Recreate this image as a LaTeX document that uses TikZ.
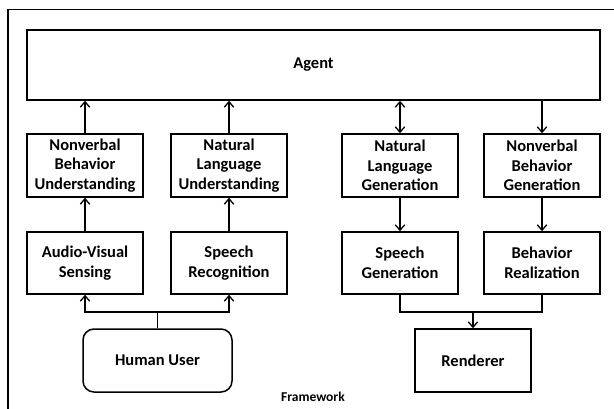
\documentclass[tikz,border=0pt]{standalone}
\usepackage{fontspec}
\setmainfont{Carlito}
\usetikzlibrary{arrows.meta}
\begin{document}
\begin{tikzpicture}[x=1pt,y=-1pt,
  box/.style={draw, line width=1.5pt, minimum width=116pt, minimum height=63pt, align=center, inner sep=0pt,
    font=\fontsize{16.5}{19.5}\selectfont\bfseries},
  conn/.style={line width=1.3pt},
  arr/.style={conn, -{Straight Barb[length=5.5pt,width=9.5pt,line width=1.3pt]}},
  darr/.style={conn, {Straight Barb[length=5.5pt,width=9.5pt,line width=1.3pt]}-{Straight Barb[length=5.5pt,width=9.5pt,line width=1.3pt]}}
]
\useasboundingbox (0,0) rectangle (614,408);
\draw[line width=1.5pt] (8,420) -- (8,9.5) -- (620,9.5);

\node[box, minimum width=573pt, minimum height=70pt] (agent) at (313.5,65) {Agent};

\node[box] (nbu) at (85,165.5) {Nonverbal\\Behavior\\Understanding};
\node[box] (nlu) at (229,165.5) {Natural\\Language\\Understanding};
\node[box] (nlg) at (400,165.5) {Natural\\Language\\Generation};
\node[box] (nbg) at (542,165.5) {Nonverbal\\Behavior\\Generation};

\node[box, minimum height=62pt] (avs) at (85,263) {Audio-Visual\\Sensing};
\node[box, minimum height=62pt] (sr) at (229,263) {Speech\\Recognition};
\node[box, minimum height=62pt] (sg) at (400,263) {Speech\\Generation};
\node[box, minimum height=62pt] (br) at (542,263) {Behavior\\Realization};

\node[box, rounded corners=11pt, minimum width=149pt] (human) at (157.5,360.5) {Human User};
\node[box] (rend) at (473,360.5) {Renderer};

\node[font=\fontsize{13.5}{16}\selectfont\bfseries] (fw) at (313,397) {Framework};

\draw[arr] (nbu.north) -- (nbu.north |- agent.south);
\draw[arr] (nlu.north) -- (nlu.north |- agent.south);
\draw[darr] (nlg.north) -- (nlg.north |- agent.south);
\draw[arr] (nbg.north |- agent.south) -- (nbg.north);

\draw[arr] (avs.north) -- (nbu.south);
\draw[arr] (sr.north) -- (nlu.south);
\draw[arr] (nlg.south) -- (sg.north);
\draw[arr] (nbg.south) -- (br.north);

\coordinate (ml) at (157.5,312);
\draw[conn] (human.north) -- (ml);
\draw[arr] (ml) -| (avs.south);
\draw[arr] (ml) -| (sr.south);

\coordinate (mr) at (473,312);
\draw[conn] (sg.south) |- (mr) -| (br.south);
\draw[arr] (mr) -- (rend.north);
\end{tikzpicture}
\end{document}
